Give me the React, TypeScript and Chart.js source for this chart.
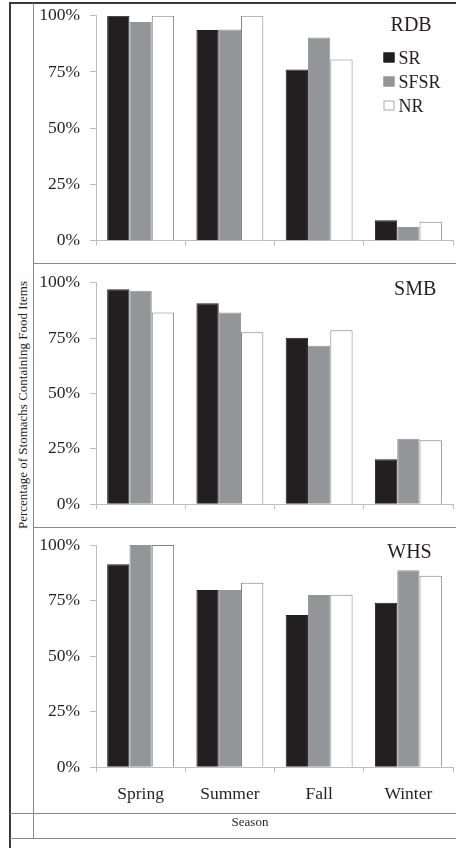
import React, { useEffect, useRef } from 'react';
import { Chart, registerables } from 'chart.js';

Chart.register(...registerables);

// ---- data ----
const seasons = ['Spring', 'Summer', 'Fall', 'Winter'];
const seriesNames = ['SR', 'SFSR', 'NR'];
const yTicks = [0, 25, 50, 75, 100];

const rdbSR = [100, 93.6, 76.1, 9.1];
const rdbSFSR = [97.2, 93.9, 90.3, 6.1];
const rdbNR = [100, 100, 80.5, 8.4];

const smbSR = [97.0, 90.7, 75.2, 20.3];
const smbSFSR = [96.4, 86.6, 71.6, 29.6];
const smbNR = [86.6, 77.6, 78.5, 28.9];

const whsSR = [91.3, 79.8, 68.5, 74.0];
const whsSFSR = [100, 79.8, 77.5, 88.6];
const whsNR = [100, 83.0, 77.6, 86.2];

const yAxisTitle = 'Percentage of Stomachs Containing Food Items';
const xAxisTitle = 'Season';

// ---- styles ----
const FONT = '"Liberation Serif", "Times New Roman", Times, serif';
const INK = '#231f20';
const AXIS = '#bcbec0';
const LINE = '#8a8a8a';
const seriesFill = ['#231f20', '#939598', '#ffffff'];
const seriesBorder = ['#231f20', '#939598', '#808285'];

type PanelCfg = {
  title: string;
  values: number[][];
  top: number;
  height: number;
  padTop: number;
  xHeight: number;
  showX: boolean;
  showLegend: boolean;
  titleInset: number;
  titleBase: number;
};

const panels: PanelCfg[] = [
  { title: 'RDB', values: [rdbSR, rdbSFSR, rdbNR], top: 4, height: 259, padTop: 11.7, xHeight: 22.3, showX: false, showLegend: true, titleInset: 21.3, titleBase: 15.3 },
  { title: 'SMB', values: [smbSR, smbSFSR, smbNR], top: 264, height: 263, padTop: 18.7, xHeight: 22.7, showX: false, showLegend: false, titleInset: 16.7, titleBase: 12.3 },
  { title: 'WHS', values: [whsSR, whsSFSR, whsNR], top: 528, height: 285, padTop: 17, xHeight: 45.7, showX: true, showLegend: false, titleInset: 21.3, titleBase: 13.3 },
];

function Panel({ cfg }: { cfg: PanelCfg }) {
  const ref = useRef<HTMLCanvasElement>(null);
  useEffect(() => {
    const decor = {
      id: 'panelDecor',
      afterDraw(chart: any) {
        const { ctx, chartArea } = chart;
        ctx.save();
        ctx.fillStyle = INK;
        ctx.font = `20px ${FONT}`;
        ctx.textAlign = 'right';
        ctx.textBaseline = 'alphabetic';
        ctx.fillText(cfg.title, chartArea.right - cfg.titleInset, chartArea.top + cfg.titleBase);
        if (cfg.showLegend) {
          ctx.font = `18px ${FONT}`;
          ctx.textAlign = 'left';
          chart.data.datasets.forEach((ds: any, i: number) => {
            const base = chartArea.top + 47.8 + i * 24;
            const sx = chartArea.right - 69.5;
            ctx.fillStyle = ds.backgroundColor;
            ctx.fillRect(sx, base - 11, 11, 10);
            ctx.strokeStyle = i === 2 ? '#a7a9ac' : ds.borderColor;
            ctx.lineWidth = 1;
            ctx.strokeRect(sx + 0.5, base - 10.5, 10, 9);
            ctx.fillStyle = INK;
            ctx.fillText(ds.label, chartArea.right - 54.5, base);
          });
        }
        ctx.restore();
      },
    };
    const chart = new Chart(ref.current as HTMLCanvasElement, {
      type: 'bar',
      data: {
        labels: seasons,
        datasets: seriesNames.map((n, i) => ({
          label: n,
          data: cfg.values[i],
          backgroundColor: seriesFill[i],
          borderColor: seriesBorder[i],
          borderWidth: 1,
          categoryPercentage: 0.75,
          barPercentage: 1,
        })),
      },
      options: {
        responsive: false,
        animation: false,
        layout: { padding: { left: 0, right: 3, top: cfg.padTop, bottom: 0 } },
        plugins: { legend: { display: false }, tooltip: { enabled: false } },
        scales: {
          x: {
            grid: { offset: true, drawOnChartArea: false, drawTicks: true, tickLength: 5, color: AXIS },
            border: { color: AXIS },
            ticks: { display: cfg.showX, font: { family: FONT, size: 17.5 }, color: INK, padding: 12 },
            afterFit: (s: any) => {
              s.height = cfg.xHeight;
              s.paddingLeft = 0;
              s.paddingRight = 0;
            },
          },
          y: {
            min: 0,
            max: 100,
            afterBuildTicks: (s: any) => {
              s.ticks = yTicks.map((v) => ({ value: v }));
            },
            grid: { drawOnChartArea: false, tickLength: 6, color: AXIS },
            border: { color: AXIS },
            ticks: {
              callback: (v: any) => `${v}%`,
              font: { family: FONT, size: 17.5 },
              color: INK,
              padding: 10,
            },
            afterFit: (s: any) => {
              s.width = 62;
              s.paddingTop = 0;
              s.paddingBottom = 0;
            },
          },
        },
      },
      plugins: [decor],
    } as any);
    return () => chart.destroy();
  }, [cfg]);
  return (
    <canvas
      ref={ref}
      width={422}
      height={cfg.height}
      style={{ position: 'absolute', left: 34, top: cfg.top, width: 422, height: cfg.height }}
    />
  );
}

function Rule({ l, t, w, h, c }: { l: number; t: number; w: number; h: number; c: string }) {
  return <div style={{ position: 'absolute', left: l, top: t, width: w, height: h, background: c }} />;
}

export default function App() {
  return (
    <div style={{ position: 'absolute', left: 0, top: 0, width: 456, height: 848, background: '#fff', overflow: 'hidden', fontFamily: FONT, color: INK }}>
      {/* frame */}
      <Rule l={10} t={2} w={446} h={2} c="#3a3a3a" />
      <Rule l={9} t={2} w={2} h={846} c="#3a3a3a" />
      <Rule l={33} t={3} w={1} h={835} c={LINE} />
      <Rule l={33} t={263} w={423} h={1} c={LINE} />
      <Rule l={33} t={527} w={423} h={1} c={LINE} />
      <Rule l={10} t={813} w={446} h={1} c={LINE} />
      <Rule l={10} t={838} w={446} h={1} c={LINE} />
      {panels.map((p) => (
        <Panel key={p.title} cfg={p} />
      ))}
      <div
        style={{
          position: 'absolute',
          left: 22,
          top: 405,
          transform: 'translate(-50%, -50%) rotate(-90deg)',
          whiteSpace: 'nowrap',
          fontSize: 13,
          lineHeight: '15px',
        }}
      >
        {yAxisTitle}
      </div>
      <div
        style={{
          position: 'absolute',
          left: 200,
          width: 100,
          top: 810,
          height: 24,
          lineHeight: '24px',
          textAlign: 'center',
          fontSize: 13,
        }}
      >
        {xAxisTitle}
      </div>
    </div>
  );
}
